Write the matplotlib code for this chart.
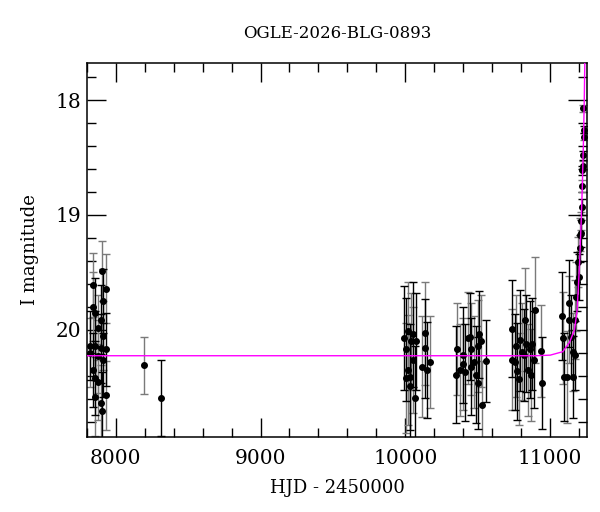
import matplotlib
matplotlib.use('Agg')
import matplotlib.pyplot as plt
import numpy as np
from matplotlib.ticker import MultipleLocator

title = "OGLE-2026-BLG-0893"

# photometry: HJD-2450000, I mag, error, dark error bar flag
hjd = [7823, 7841, 7857, 7880, 7899, 7908, 7914, 7933, 7823, 7857, 7899, 7908,
       7841, 7857, 7880, 7914, 7933, 7841, 7880, 7899, 7914, 7933, 7857,
       8193, 8315,
       9990, 10018, 10007, 10018, 10030, 10007, 10030, 10052, 10064, 10041,
       10076, 10133, 10138, 10115, 10149, 10168, 10052,
       10356, 10352, 10375, 10398, 10398, 10409, 10432, 10448, 10455, 10455,
       10471, 10485, 10501, 10508, 10524, 10501, 10531, 10554,
       10733, 10738, 10754, 10766, 10770, 10784, 10793, 10807, 10816, 10826,
       10835, 10846, 10858, 10869, 10876, 10892, 10885, 10938, 10942,
       11083, 11087, 11094, 11117, 11128, 11133, 11145, 11156, 11161, 11168,
       11174, 11179, 11186, 11193, 11202, 11207, 11214,
       11209, 11214, 11219, 11221, 11221, 11228, 11226, 11233, 11233, 11226]
mag = [20.14, 19.61, 19.85, 20.23, 19.91, 19.49, 19.75, 19.64, 20.20, 20.42, 20.64, 20.71,
       19.80, 20.14, 19.98, 20.26, 20.57, 20.35, 20.45, 20.16, 20.05, 20.17, 20.58,
       20.31, 20.59,
       20.07, 20.01, 20.17, 20.35, 20.41, 20.42, 20.49, 20.26, 20.59, 20.10,
       20.10, 20.03, 20.16, 20.32, 20.35, 20.28, 20.04,
       20.17, 20.39, 20.35, 20.22, 20.30, 20.37, 20.07, 20.06, 20.17, 20.32,
       20.28, 20.39, 20.14, 20.04, 20.10, 20.46, 20.65, 20.27,
       19.99, 20.26, 20.28, 20.14, 20.36, 20.43, 20.09, 20.19, 20.22, 19.91,
       20.12, 20.35, 20.17, 20.39, 20.12, 19.83, 20.26, 20.18, 20.46,
       19.88, 20.07, 20.41, 20.41, 19.77, 19.91, 20.06, 20.19, 20.41, 19.91,
       20.22, 19.71, 19.58, 19.41, 19.54, 19.17, 19.16,
       19.29, 19.05, 18.93, 18.75, 18.61, 18.57, 18.48, 18.32, 18.26, 18.07]
err = [0.30, 0.28, 0.30, 0.32, 0.30, 0.26, 0.28, 0.30, 0.30, 0.32, 0.33, 0.34,
       0.30, 0.30, 0.28, 0.32, 0.30, 0.32, 0.33, 0.30, 0.30, 0.32, 0.34,
       0.245, 0.33,
       0.45, 0.43, 0.45, 0.48, 0.46, 0.48, 0.45, 0.46, 0.45, 0.42,
       0.42, 0.45, 0.43, 0.44, 0.42, 0.40, 0.46,
       0.40, 0.42, 0.40, 0.42, 0.40, 0.42, 0.40, 0.38, 0.40, 0.42,
       0.40, 0.42, 0.40, 0.38, 0.40, 0.40, 0.38, 0.36,
       0.42, 0.44, 0.42, 0.44, 0.42, 0.40, 0.44, 0.42, 0.40, 0.45,
       0.42, 0.40, 0.42, 0.40, 0.40, 0.46, 0.42, 0.40, 0.40,
       0.38, 0.40, 0.38, 0.40, 0.38, 0.38, 0.36, 0.34, 0.36, 0.34,
       0.30, 0.30, 0.26, 0.22, 0.20, 0.14, 0.12,
       0.12, 0.08, 0.07, 0.05, 0.04, 0.04, 0.04, 0.03, 0.03, 0.03]
dark = [1, 0, 1, 0, 1, 0, 1, 0, 0, 1, 0, 1,
        0, 1, 0, 1, 0, 1, 0, 1, 0, 1, 0,
        0, 1,
        1, 0, 1, 0, 1, 0, 1, 0, 1, 0,
        1, 0, 1, 0, 1, 0, 1,
        0, 1, 0, 1, 0, 1, 0, 1, 0, 1,
        0, 1, 0, 1, 0, 1, 0, 1,
        1, 0, 1, 0, 1, 0, 1, 0, 1, 0,
        1, 0, 1, 0, 1, 0, 1, 0, 1,
        1, 0, 1, 0, 1, 0, 1, 0, 1, 0,
        1, 0, 1, 0, 1, 0, 1,
        1, 0, 1, 0, 1, 0, 1, 0, 1, 0]

# model curve points
model_hjd = [7800, 10900, 11000, 11087, 11133, 11168, 11186, 11202, 11214,
             11222, 11230, 11236, 11240]
model_mag = [20.225, 20.225, 20.22, 20.19, 20.11, 20.0, 19.83, 19.45, 19.06,
             18.75, 18.35, 17.95, 17.6]

plt.rcParams['font.family'] = ['DejaVu Serif']

fig = plt.figure(figsize=(6, 5.12), dpi=100)
ax = fig.add_axes([0.1445, 0.147, 0.8345, 0.7305])

x = np.array(hjd)
y = np.array(mag)
e = np.array(err)
d = np.array(dark, dtype=bool)

for mask, ecol in ((~d, '#7a7a7a'), (d, 'black')):
    ax.errorbar(x[mask], y[mask], yerr=e[mask], fmt='o', color='black',
                ecolor=ecol, elinewidth=1, capsize=3, capthick=1,
                markersize=4, zorder=2)

ax.plot(model_hjd, model_mag, color='magenta', lw=1.0, zorder=3)

ax.set_xlim(7800, 11257)
ax.set_ylim(20.93, 17.675)
ax.xaxis.set_major_locator(MultipleLocator(1000))
ax.xaxis.set_minor_locator(MultipleLocator(200))
ax.yaxis.set_major_locator(MultipleLocator(1))
ax.yaxis.set_minor_locator(MultipleLocator(0.2))
ax.tick_params(which='both', direction='in', top=True, right=True,
               labelsize=14.5, width=1)
ax.tick_params(which='major', length=14)
ax.tick_params(which='minor', length=6.5)
ax.tick_params(axis='x', which='major', pad=9)
ax.tick_params(axis='y', which='major', pad=4)
for s in ax.spines.values():
    s.set_linewidth(1.1)

ax.set_xlabel('HJD - 2450000', fontsize=13, labelpad=8)
ax.set_ylabel('I magnitude', fontsize=13, labelpad=12)
ax.set_title(title, fontsize=12, pad=18)

fig.savefig('out.png', dpi=100)
